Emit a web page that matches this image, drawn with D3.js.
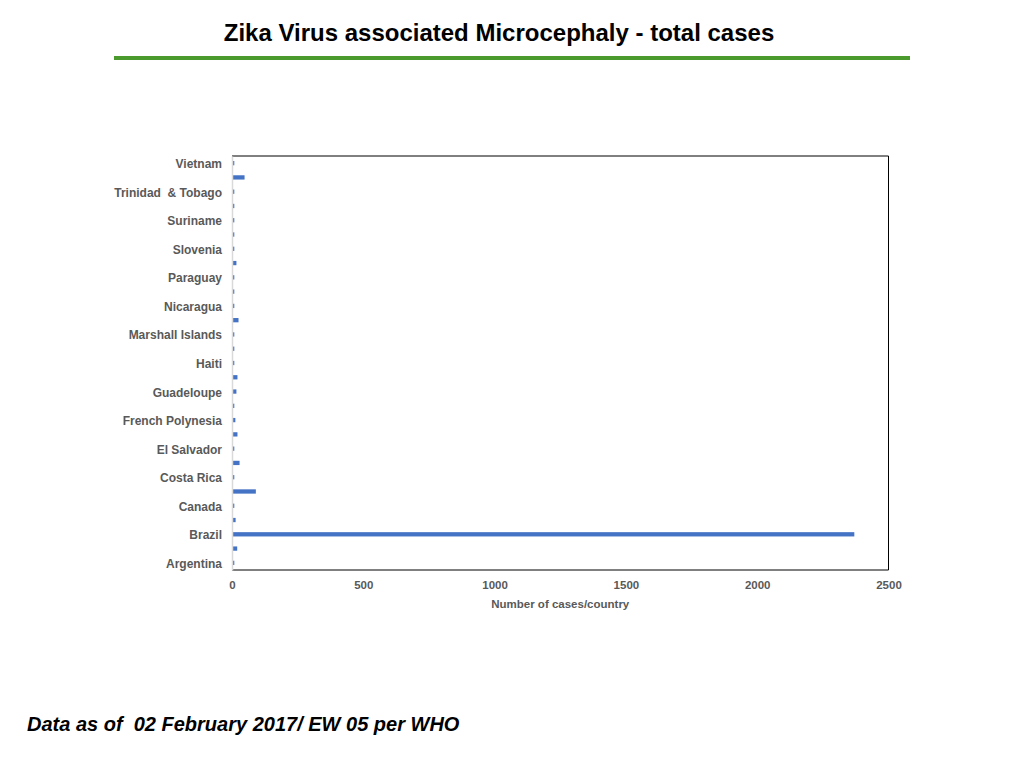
<!DOCTYPE html>
<html>
<head>
<meta charset="utf-8">
<script src="https://cdn.jsdelivr.net/npm/d3@7"></script>
<style>
  body { margin: 0; background: #fff; }
  svg { font-family: "Liberation Sans", Arial, Helvetica, sans-serif; }
  text { white-space: pre; }
</style>
</head>
<body>
<svg id="chart" width="1024" height="768"></svg>
<script>
// countries, bottom to top (alphabetical)
const countries = [
  "Argentina", "Bolivia", "Brazil", "Cabo Verde", "Canada", "Colombia",
  "Costa Rica", "Dominican Republic", "El Salvador", "French Guiana",
  "French Polynesia", "Grenada", "Guadeloupe", "Guatemala", "Haiti",
  "Honduras", "Marshall Islands", "Martinique", "Nicaragua", "Panama",
  "Paraguay", "Puerto Rico", "Slovenia", "Spain", "Suriname", "Thailand",
  "Trinidad  & Tobago", "United States of America", "Vietnam"
];
const cases = [
  3, 16, 2366, 10, 2, 87,
  3, 25, 3, 17,
  9, 2, 13, 17, 2,
  3, 2, 21, 2, 3,
  2, 13, 2, 2, 3, 3,
  2, 44, 2
];
const xTicks = [0, 500, 1000, 1500, 2000, 2500];

const title = "Zika Virus associated Microcephaly - total cases";
const footnote = "Data as of  02 February 2017/ EW 05 per WHO";
const xAxisTitle = "Number of cases/country";

const data = countries.map((c, i) => ({ country: c, value: cases[i] }));

const svg = d3.select("#chart");
const margin = { left: 232, right: 888.5, top: 156, bottom: 570 };

// title + green rule
svg.append("text")
  .attr("x", 499).attr("y", 41)
  .attr("text-anchor", "middle")
  .style("font-size", "24px").style("font-weight", "bold")
  .attr("fill", "#000")
  .text(title);

svg.append("rect")
  .attr("x", 114).attr("y", 56)
  .attr("width", 796).attr("height", 4)
  .attr("fill", "#4b9a2e");

const x = d3.scaleLinear().domain([0, 2500]).range([margin.left, margin.right]);
const y = d3.scaleBand()
  .domain(countries.slice().reverse())
  .range([margin.top, margin.bottom])
  .paddingInner(0.7)
  .paddingOuter(0.35);

// frame (top, right, bottom black)
svg.append("path")
  .attr("d", `M${margin.left},${margin.top}H${margin.right}V${margin.bottom}H${margin.left}`)
  .attr("fill", "none")
  .attr("stroke", "#000")
  .attr("stroke-width", 1);

// bars
svg.append("g").selectAll("rect").data(data).join("rect")
  .attr("x", x(0) + 1)
  .attr("y", d => y(d.country))
  .attr("width", d => Math.max(1.3, x(d.value) - x(0)))
  .attr("height", y.bandwidth())
  .attr("fill", "#4472c4");

// y axis, only every other label
const gY = svg.append("g")
  .attr("transform", `translate(${margin.left},0)`)
  .call(d3.axisLeft(y)
    .tickValues(countries.filter((d, i) => i % 2 === 0))
    .tickSize(0)
    .tickPadding(10));
gY.select(".domain").attr("stroke", "#d9d9d9").attr("stroke-width", 1.5);
gY.selectAll("text")
  .attr("dy", "0.42em")
  .style("font-size", "12px").style("font-weight", "bold")
  .attr("fill", "#595959");

// x axis
const gX = svg.append("g")
  .attr("transform", `translate(0,${margin.bottom})`)
  .call(d3.axisBottom(x).tickValues(xTicks).tickFormat(d3.format("d")).tickSize(0).tickPadding(11));
gX.select(".domain").remove();
gX.selectAll("text")
  .style("font-size", "11.5px").style("font-weight", "bold")
  .attr("fill", "#595959");

svg.append("text")
  .attr("x", (margin.left + margin.right) / 2).attr("y", 608)
  .attr("text-anchor", "middle")
  .style("font-size", "11.5px").style("font-weight", "bold")
  .attr("fill", "#595959")
  .text(xAxisTitle);

// footnote
svg.append("text")
  .attr("x", 27).attr("y", 731)
  .style("font-size", "20px").style("font-weight", "bold").style("font-style", "italic")
  .attr("fill", "#000")
  .text(footnote);
</script>
</body>
</html>
